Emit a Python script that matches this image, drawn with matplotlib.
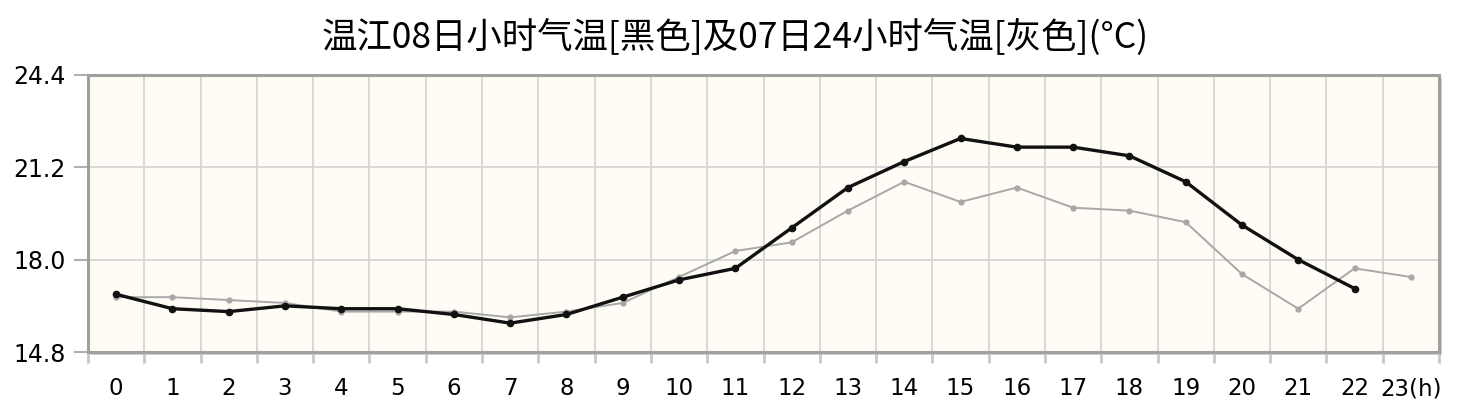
import matplotlib
matplotlib.use("Agg")
import matplotlib.pyplot as plt
from matplotlib.patches import Rectangle

hours_today = list(range(23))
temp_today = [16.8, 16.3, 16.2, 16.4, 16.3, 16.3, 16.1, 15.8, 16.1, 16.7, 17.3, 17.7,
              19.1, 20.5, 21.4, 22.2, 21.9, 21.9, 21.6, 20.7, 19.2, 18.0, 17.0]
hours_prev = list(range(24))
temp_prev = [16.7, 16.7, 16.6, 16.5, 16.2, 16.2, 16.2, 16.0, 16.2, 16.5, 17.4, 18.3,
             18.6, 19.7, 20.7, 20.0, 20.5, 19.8, 19.7, 19.3, 17.5, 16.3, 17.7, 17.4]
x_labels = [str(i) for i in range(23)] + ["23(h)"]
y_ticks = [14.8, 18.0, 21.2, 24.4]
title = "温江08日小时气温[黑色]及07日24小时气温[灰色](°C)"

plt.rcParams['font.family'] = ['DejaVu Sans']
fig = plt.figure(figsize=(14.62, 4.12), dpi=100)
L, B, W, H = 88/1462, 60/412, 1351/1462, 277/412
# shadow
shadow = Rectangle((L + 3/1462, B - 3/412), W, H, transform=fig.transFigure,
                   facecolor='#d0d0d0', edgecolor='none', zorder=-5)
fig.patches.append(shadow)
ax = fig.add_axes([L, B, W, H])
ax.set_zorder(1)
ax.set_facecolor('#fefcf4')

ax.set_xlim(0, 24)
ax.set_ylim(14.8, 24.4)

# grid
ax.set_xticks(range(25))
ax.set_yticks(y_ticks)
ax.grid(True, color='#d6d6d6', linewidth=1.3)
ax.set_axisbelow(True)
ax.tick_params(axis='x', which='major', length=8, width=2, color='#c8c8c8', labelbottom=False)
ax.tick_params(axis='y', which='major', length=10, width=1.5, color='#b0b0b0', labelsize=17, pad=6)
ax.set_yticklabels([f"{v:.1f}" for v in y_ticks])

ax.set_xticks([i + 0.5 for i in range(24)], minor=True)
ax.set_xticklabels(x_labels, minor=True)
ax.tick_params(axis='x', which='minor', length=0, labelsize=16.5, pad=18)

for s in ax.spines.values():
    s.set_color('#a0a0a0')
    s.set_linewidth(2.2)

ax.plot([h + 0.5 for h in hours_prev], temp_prev, color='#a8a8a8', linewidth=1.4,
        marker='o', markersize=3.5, zorder=3)
ax.plot([h + 0.5 for h in hours_today], temp_today, color='#111111', linewidth=2.4,
        marker='o', markersize=4.5, zorder=4)

fig.text(0.503, 0.908, title, ha='center', va='center', fontsize=25.5,
         family=['Noto Sans CJK SC', 'DejaVu Sans'])

fig.savefig('out.png', dpi=100)
